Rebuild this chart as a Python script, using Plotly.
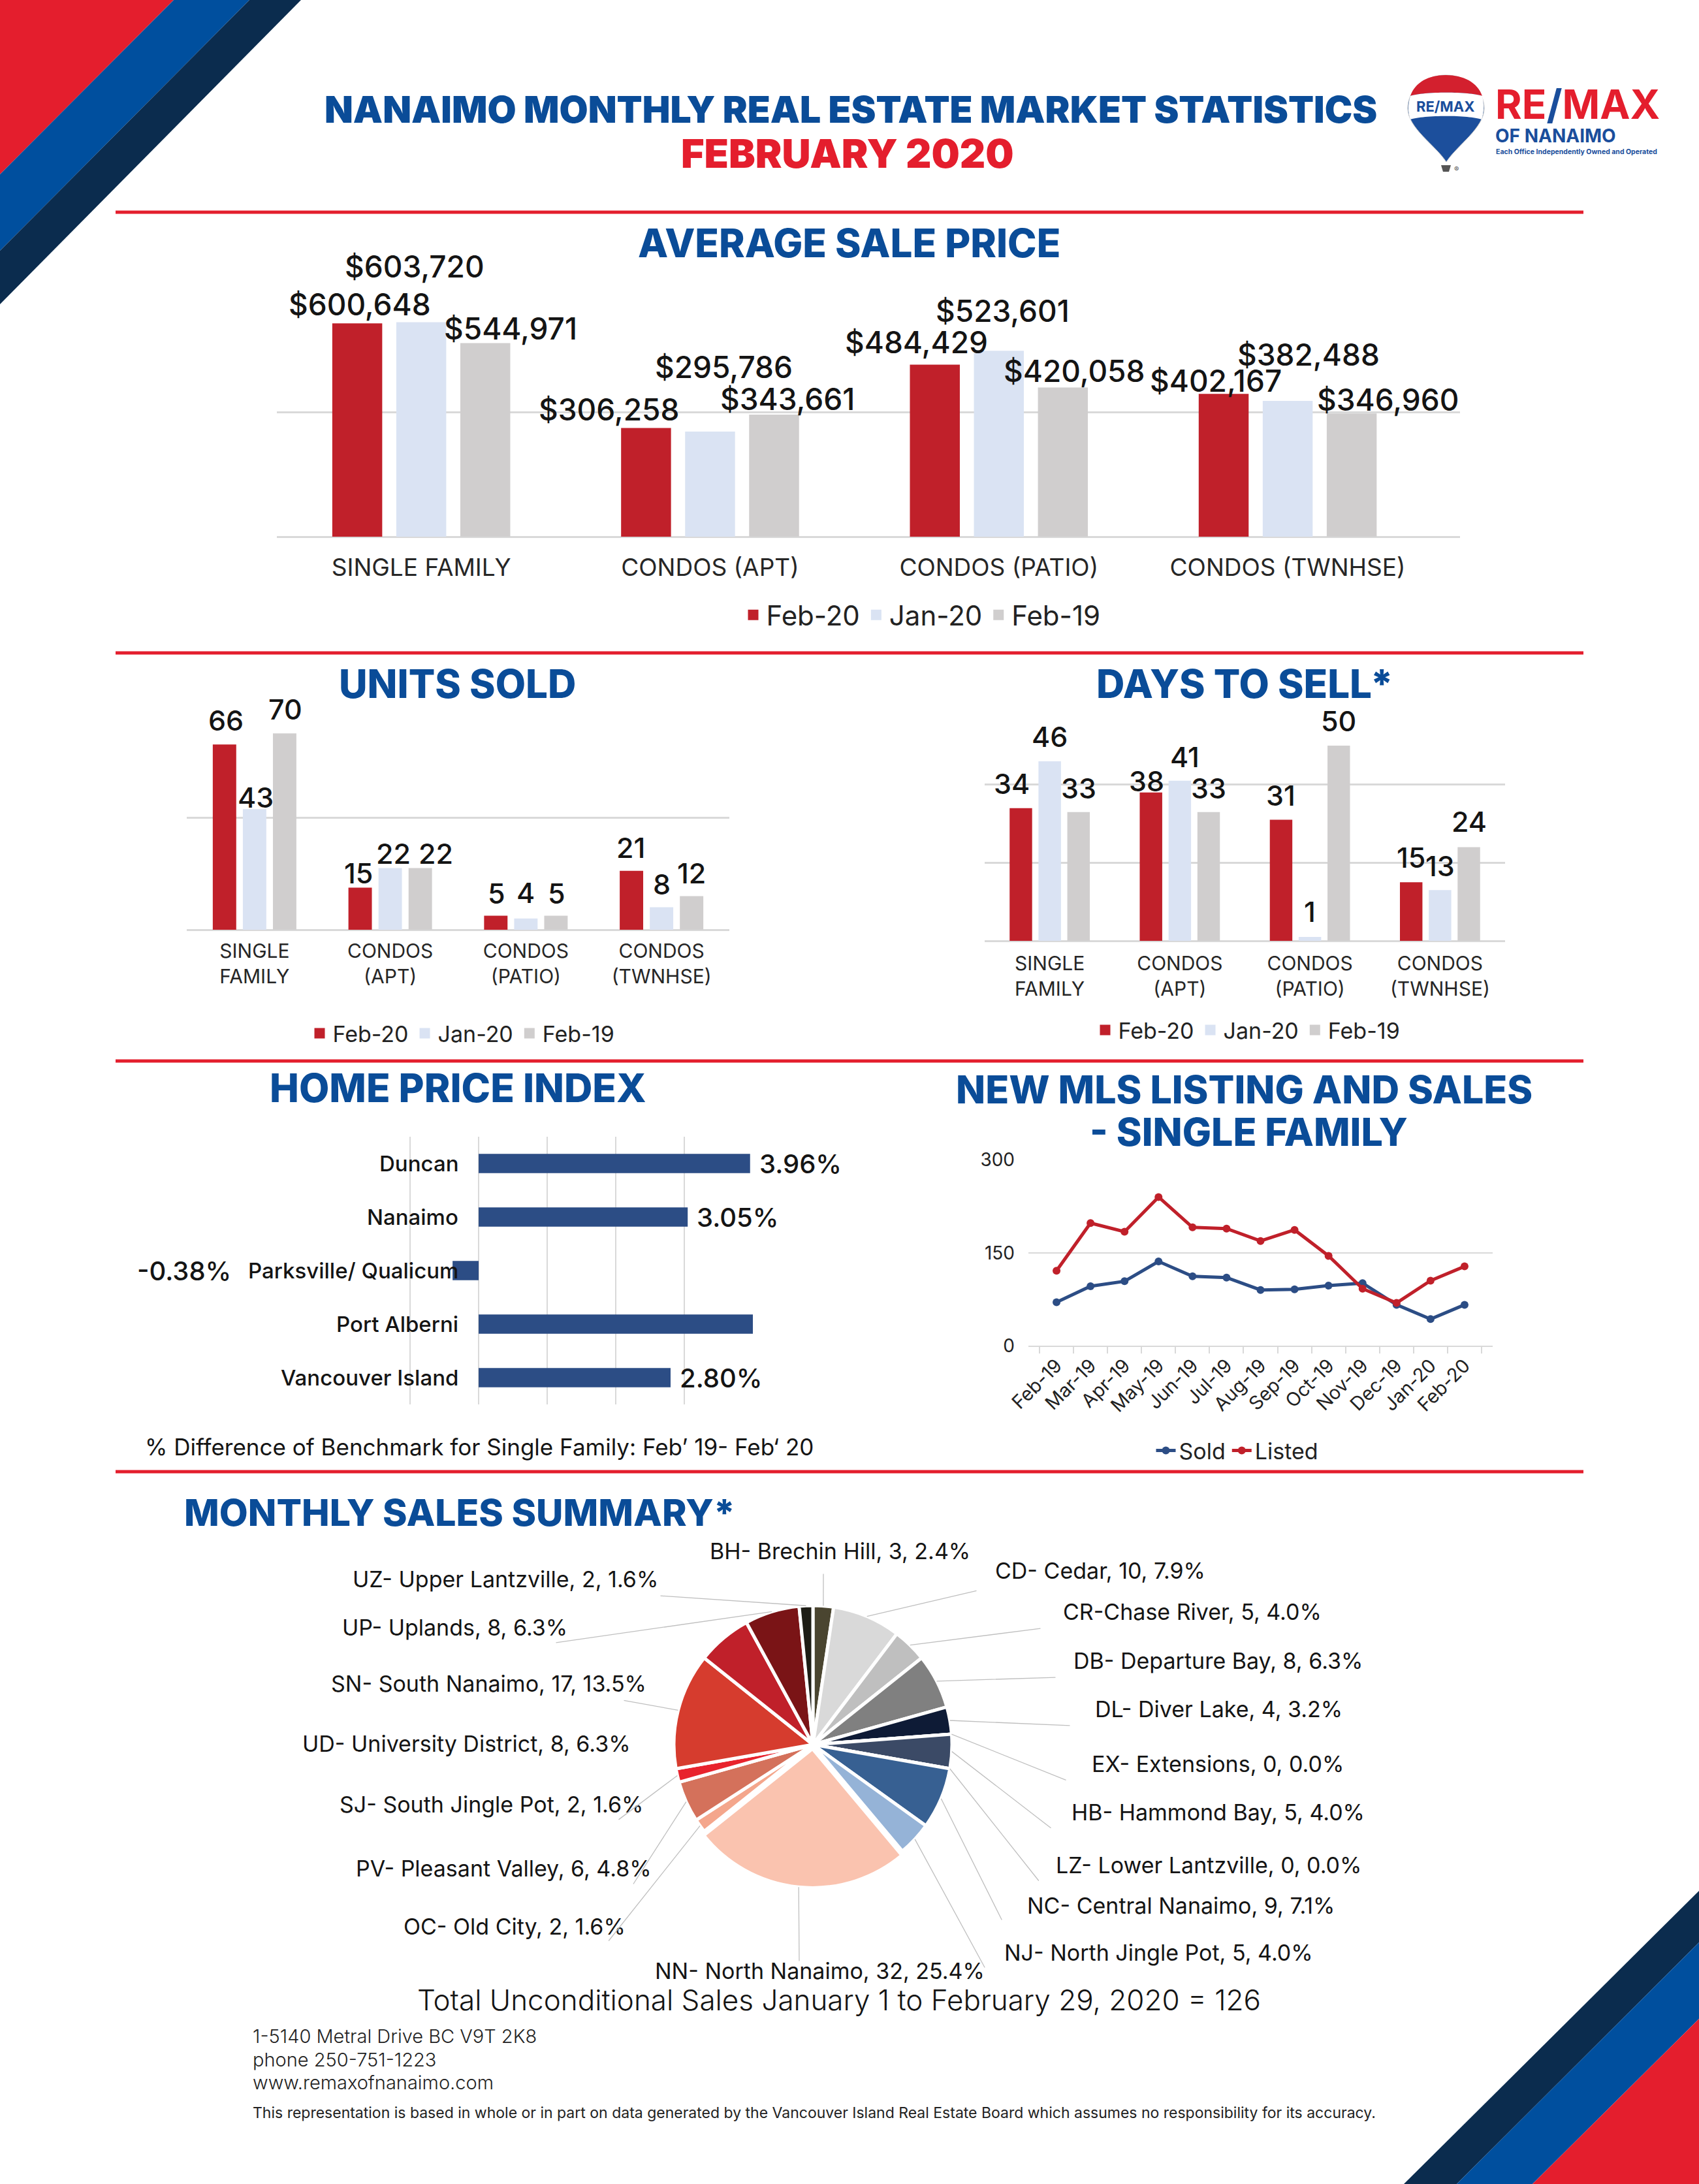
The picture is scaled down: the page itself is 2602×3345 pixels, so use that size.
import math
import plotly.graph_objects as go

W, H = 2602, 3345

# ---------------- data ----------------
bar_categories = ["SINGLE FAMILY", "CONDOS (APT)", "CONDOS (PATIO)", "CONDOS (TWNHSE)"]
series_names = ["Feb-20", "Jan-20", "Feb-19"]

avg_price_feb20 = [600648, 306258, 484429, 402167]
avg_price_jan20 = [603720, 295786, 523601, 382488]
avg_price_feb19 = [544971, 343661, 420058, 346960]

units_feb20 = [66, 15, 5, 21]
units_jan20 = [43, 22, 4, 8]
units_feb19 = [70, 22, 5, 12]

days_feb20 = [34, 38, 31, 15]
days_jan20 = [46, 41, 1, 13]
days_feb19 = [33, 33, 50, 24]

hpi_regions = ["Duncan", "Nanaimo", "Parksville/ Qualicum", "Port Alberni", "Vancouver Island"]
hpi_change = [3.96, 3.05, -0.38, 4.01, 2.80]
hpi_label_shown = [True, True, True, False, True]

mls_months = ["Feb-19", "Mar-19", "Apr-19", "May-19", "Jun-19", "Jul-19", "Aug-19",
              "Sep-19", "Oct-19", "Nov-19", "Dec-19", "Jan-20", "Feb-20"]
mls_sold = [70, 96, 104, 136, 112, 110, 90, 91, 97, 101, 66, 43, 66]
mls_listed = [121, 198, 184, 240, 191, 189, 169, 187, 145, 92, 69, 105, 128]

area_labels = ["BH- Brechin Hill", "CD- Cedar", "CR-Chase River", "DB- Departure Bay",
               "DL- Diver Lake", "EX- Extensions", "HB- Hammond Bay", "LZ- Lower Lantzville",
               "NC- Central Nanaimo", "NJ- North Jingle Pot", "NN- North Nanaimo", "OC- Old City",
               "PV- Pleasant Valley", "SJ- South Jingle Pot", "SN- South Nanaimo",
               "UD- University District", "UP- Uplands", "UZ- Upper Lantzville"]
area_sales = [3, 10, 5, 8, 4, 0, 5, 0, 9, 5, 32, 2, 6, 2, 17, 8, 8, 2]

# ---------------- styles ----------------
def fx(x):
    return x / W


def fy(y):
    return 1 - y / H


def pt(x, y):
    return f"{fx(x):.6f},{fy(y):.6f}"


RED = "#C0202A"
JAN = "#DAE3F3"
GREY = "#D0CECE"
GRID = "#D9D9D9"
TBLUE = "#0A4C98"
HRED = "#E41E2D"
NAVY = "#0B2C4E"
SBLUE = "#004F9E"
LOGOBLUE = "#1A4E9C"
HPIBLUE = "#2C4D85"
INK = "#141414"
FONT = "Inter, 'Open Sans', sans-serif"
series_colors = [RED, JAN, GREY]

AVG = dict(x0=424, x1=2236, y0=441, y1=822)
UNI = dict(x0=286, x1=1117, y0=1080, y1=1424)
DAY = dict(x0=1508, x1=2305, y0=1082, y1=1441)
HPI = dict(x0=523, x1=1153, y0=1741, y1=2151)
MLS = dict(x0=1575, x1=2286, y0=1776, y1=2061)
PIE_C = (1245, 2672)
PIE_R = 213
BARGAP = 0.335
GROUPGAP = 0.22

fig = go.Figure()
annotations = []
shapes = []


def add_bars(xa, ya, legend, vals_list):
    for name, vals, col in zip(series_names, vals_list, series_colors):
        fig.add_trace(go.Bar(x=bar_categories, y=vals, name=name, xaxis=xa, yaxis=ya,
                             showlegend=False, marker=dict(color=col, line=dict(width=0)),
                             hoverinfo="skip"))
    # legend entries with larger square swatches
    for name, col in zip(series_names, series_colors):
        fig.add_trace(go.Scatter(x=[None], y=[None], mode="markers", name=name, xaxis=xa,
                                 yaxis=ya, legend=legend, hoverinfo="skip",
                                 marker=dict(symbol="square", size=16, color=col)))


def bar_labels(g, xref, yref, vals_list, offsets, fmt, size):
    catw = (g["x1"] - g["x0"]) / len(bar_categories)
    slot = catw * (1 - BARGAP) / 3
    for si, vals in enumerate(vals_list):
        for ci, v in enumerate(vals):
            dx, dy = offsets[ci][si]
            annotations.append(dict(x=bar_categories[ci], y=v, xref=xref, yref=yref, text=fmt(v),
                                    showarrow=False, xanchor="center", yanchor="middle",
                                    xshift=(si - 1) * slot + dx, yshift=dy,
                                    font=dict(family=FONT, size=size, color=INK, weight=500)))


avg_vals = [avg_price_feb20, avg_price_jan20, avg_price_feb19]
units_vals = [units_feb20, units_jan20, units_feb19]
days_vals = [days_feb20, days_jan20, days_feb19]

add_bars("x", "y", "legend", avg_vals)
add_bars("x2", "y2", "legend2", units_vals)
add_bars("x3", "y3", "legend3", days_vals)

avg_offsets = [[(6, 29), (-10, 86), (36, 23)], [(-55, 28), (21, 99), (18, 24)],
               [(-26, 34), (6, 61), (15, 25)], [(-10, 20), (32, 71), (53, 21)]]
units_offsets = [[(2, 37), (2, 18), (1, 37)], [(-3, 23), (5, 22), (24, 22)],
                 [(1, 35), (0, 40), (1, 35)], [(-1, 36), (0, 36), (0, 35)]]
days_offsets = [[(-14, 38), (0, 38), (0, 37)], [(-7, 18), (8, 37), (0, 37)],
                [(0, 38), (0, 39), (0, 38)], [(0, 38), (0, 37), (0, 39)]]

bar_labels(AVG, "x", "y", avg_vals, avg_offsets, lambda v: f"${v:,.0f}", 46)
bar_labels(UNI, "x2", "y2", units_vals, units_offsets, lambda v: f"{v}", 43)
bar_labels(DAY, "x3", "y3", days_vals, days_offsets, lambda v: f"{v}", 43)

# Home price index
fig.add_trace(go.Bar(x=hpi_change, y=hpi_regions, orientation="h", xaxis="x4", yaxis="y4",
                     width=0.36, marker=dict(color=HPIBLUE, line=dict(width=0)),
                     showlegend=False, hoverinfo="skip"))
for reg, v, show in zip(hpi_regions, hpi_change, hpi_label_shown):
    annotations.append(dict(x=0, y=reg, xref="x4", yref="y4", text=reg, showarrow=False,
                            xanchor="right", yanchor="middle", xshift=-29,
                            font=dict(family=FONT, size=33, color=INK, weight=500)))
    if show:
        if v >= 0:
            annotations.append(dict(x=v, y=reg, xref="x4", yref="y4", text=f"{v:.2f}%",
                                    showarrow=False, xanchor="left", yanchor="middle", xshift=12,
                                    font=dict(family=FONT, size=40, color=INK, weight=500)))
        else:
            annotations.append(dict(x=v, y=reg, xref="x4", yref="y4", text=f"{v:.2f}%",
                                    showarrow=False, xanchor="right", yanchor="middle", xshift=-337,
                                    font=dict(family=FONT, size=40, color=INK, weight=500)))

# MLS lines
fig.add_trace(go.Scatter(x=mls_months, y=mls_sold, name="Sold", mode="lines+markers",
                         xaxis="x5", yaxis="y5", legend="legend4",
                         line=dict(color=HPIBLUE, width=5), marker=dict(size=12, color=HPIBLUE),
                         hoverinfo="skip"))
fig.add_trace(go.Scatter(x=mls_months, y=mls_listed, name="Listed", mode="lines+markers",
                         xaxis="x5", yaxis="y5", legend="legend4",
                         line=dict(color=RED, width=5), marker=dict(size=12, color=RED),
                         hoverinfo="skip"))

# Pie
pie_colors = ["#4A4530", "#D9D9D9", "#BFBFBF", "#808080", "#0E1B36", "#203864", "#3B4A66",
              "#2F5597", "#376092", "#95B3D7", "#FAC3AF", "#F4A68C", "#D4715B", "#E8232D",
              "#D63C2E", "#C0202A", "#7A1416", "#1D1D15"]
pull = [0.03 if lab.startswith("NN") else 0 for lab in area_labels]
rdom = PIE_R * (1 + max(pull))
cx, cy = PIE_C
fig.add_trace(go.Pie(values=area_sales, labels=area_labels, sort=False, direction="clockwise",
                     rotation=0, textinfo="none", pull=pull, showlegend=False, hoverinfo="skip",
                     marker=dict(colors=pie_colors, line=dict(color="white", width=5)),
                     domain=dict(x=[fx(cx - rdom), fx(cx + rdom)], y=[fy(cy + rdom), fy(cy - rdom)])))

total_sales = sum(area_sales)
label_anchor = [
    (1286, 2375, "center"), (1522, 2405, "left"), (1626, 2468, "left"), (1642, 2543, "left"),
    (1675, 2617, "left"), (1670, 2701, "left"), (1639, 2775, "left"), (1615, 2856, "left"),
    (1571, 2918, "left"), (1536, 2990, "left"), (1255, 3018, "center"), (960, 2950, "right"),
    (1000, 2861, "right"), (987, 2763, "right"), (992, 2578, "right"), (968, 2670, "right"),
    (871, 2492, "right"), (1010, 2418, "right")]
leader_tails = [(1261, 2409), (1497, 2436), (1595, 2494), (1618, 2569), (1640, 2643),
                (1634, 2727), (1611, 2801), (1592, 2882), (1535, 2942), (1509, 3015),
                (1224, 3005), (931, 2974), (969, 2887), (946, 2788), (954, 2604), None,
                (850, 2516), (1010, 2444)]
cum = 0
for i, (lab, n) in enumerate(zip(area_labels, area_sales)):
    mid = (cum + n / 2) / total_sales
    cum += n
    th = 2 * math.pi * mid
    rr = PIE_R * (1 + pull[i])
    hx = cx + rr * math.sin(th)
    hy = cy - rr * math.cos(th)
    pct = n / total_sales * 100
    lx, ly, anc = label_anchor[i]
    annotations.append(dict(x=fx(lx), y=fy(ly), xref="paper", yref="paper",
                            text=f"{lab}, {n}, {pct:.1f}%", showarrow=False,
                            xanchor=anc, yanchor="middle",
                            font=dict(family=FONT, size=34, color=INK)))
    if leader_tails[i] is not None:
        tx, ty = leader_tails[i]
        annotations.append(dict(x=fx(hx), y=fy(hy), xref="paper", yref="paper", text="",
                                showarrow=True, arrowhead=0, arrowwidth=1.3, arrowcolor="#BFBFBF",
                                axref="pixel", ayref="pixel", ax=tx - hx, ay=ty - hy))

# ---------------- titles & texts ----------------
def title(text, x, y, size, color=TBLUE, anchor="center", weight=800):
    annotations.append(dict(x=fx(x), y=fy(y), xref="paper", yref="paper", text=text,
                            showarrow=False, xanchor=anchor, yanchor="middle",
                            font=dict(family=FONT, size=size, color=color, weight=weight)))


title("NANAIMO MONTHLY REAL ESTATE MARKET STATISTICS", 1303, 167, 57, weight=900)
title("FEBRUARY 2020", 1298, 235, 61, color=HRED, weight=900)
title("AVERAGE SALE PRICE", 1300, 372, 60)
title("UNITS SOLD", 700, 1047, 60)
title("DAYS TO SELL*", 1906, 1047, 60)
title("HOME PRICE INDEX", 701, 1666, 60)
title("NEW MLS LISTING AND SALES", 1905, 1668, 59)
title("- SINGLE FAMILY", 1912, 1733, 59)
title("MONTHLY SALES SUMMARY*", 280, 2316, 57, anchor="left")

annotations.append(dict(x=fx(220), y=fy(2216), xref="paper", yref="paper",
                        text="% Difference of Benchmark for Single Family: Feb\u2019 19- Feb\u2018 20",
                        showarrow=False, xanchor="left", yanchor="middle",
                        font=dict(family=FONT, size=35, color=INK)))
annotations.append(dict(x=fx(1285), y=fy(3063), xref="paper", yref="paper",
                        text=f"Total Unconditional Sales January 1 to February 29, 2020 = {total_sales}",
                        showarrow=False, xanchor="center", yanchor="middle",
                        font=dict(family=FONT, size=44, color=INK, weight=300)))
for txt, yy in [("1-5140 Metral Drive BC V9T 2K8", 3118), ("phone 250-751-1223", 3154),
                ("www.remaxofnanaimo.com", 3189)]:
    annotations.append(dict(x=fx(385), y=fy(yy), xref="paper", yref="paper", text=txt,
                            showarrow=False, xanchor="left", yanchor="middle",
                            font=dict(family=FONT, size=29, color="#222222", weight=300)))
annotations.append(dict(x=fx(385), y=fy(3236), xref="paper", yref="paper",
                        text="This representation is based in whole or in part on data generated by the "
                             "Vancouver Island Real Estate Board which assumes no responsibility for its accuracy.",
                        showarrow=False, xanchor="left", yanchor="middle",
                        font=dict(family=FONT, size=23, color="#222222")))

# logo texts
LOGO = "Inter, 'Liberation Sans', Arial, sans-serif"
annotations.append(dict(x=fx(2288), y=fy(160), xref="paper", yref="paper",
                        text=f"RE<span style='color:{LOGOBLUE}'>/</span>MAX",
                        showarrow=False, xanchor="left", yanchor="middle",
                        font=dict(family=LOGO, size=62, color=HRED, weight=700)))
annotations.append(dict(x=fx(2288), y=fy(208), xref="paper", yref="paper", text="OF NANAIMO",
                        showarrow=False, xanchor="left", yanchor="middle",
                        font=dict(family=LOGO, size=28, color=LOGOBLUE, weight=700)))
annotations.append(dict(x=fx(2289), y=fy(232), xref="paper", yref="paper",
                        text="Each Office Independently Owned and Operated",
                        showarrow=False, xanchor="left", yanchor="middle",
                        font=dict(family=LOGO, size=10.5, color=LOGOBLUE, weight=700)))
annotations.append(dict(x=fx(2214), y=fy(163), xref="paper", yref="paper", text="RE/MAX",
                        showarrow=False, xanchor="center", yanchor="middle",
                        font=dict(family=LOGO, size=22, color=LOGOBLUE, weight=700)))
annotations.append(dict(x=fx(2230), y=fy(259), xref="paper", yref="paper", text="\u00ae",
                        showarrow=False, xanchor="center", yanchor="middle",
                        font=dict(family=LOGO, size=11, color="#555555")))

# ---------------- shapes ----------------
def poly(points, color):
    shapes.append(dict(type="path", xref="paper", yref="paper", layer="below",
                       path="M " + " L ".join(pt(*p) for p in points) + " Z",
                       fillcolor=color, line=dict(width=0)))


poly([(0, 0), (266, 0), (0, 267)], HRED)
poly([(266, 0), (382, 0), (0, 384), (0, 267)], SBLUE)
poly([(382, 0), (461, 0), (0, 466), (0, 384)], NAVY)
poly([(2602, 2896), (2602, 2975), (2231, 3345), (2150, 3345)], NAVY)
poly([(2602, 2975), (2602, 3092), (2347, 3345), (2231, 3345)], SBLUE)
poly([(2602, 3092), (2602, 3345), (2347, 3345)], HRED)

for yy in [325, 1000, 1625, 2254]:
    shapes.append(dict(type="line", xref="paper", yref="paper", x0=fx(177), x1=fx(2425),
                       y0=fy(yy), y1=fy(yy), line=dict(color=HRED, width=5)))

# balloon
balloon = (f"M {pt(2214,115)} C {pt(2248,115)} {pt(2273,138)} {pt(2273,166)} "
           f"C {pt(2273,196)} {pt(2232,222)} {pt(2215,248)} "
           f"C {pt(2198,222)} {pt(2156,196)} {pt(2156,166)} "
           f"C {pt(2156,138)} {pt(2181,115)} {pt(2214,115)} Z")
shapes.append(dict(type="path", xref="paper", yref="paper", path=balloon, fillcolor="#1C4F9C",
                   line=dict(color="#C8C8C8", width=1)))
cap = (f"M {pt(2160,147)} C {pt(2167,126)} {pt(2188,115)} {pt(2214,115)} "
       f"C {pt(2241,115)} {pt(2263,126)} {pt(2270,147)} "
       f"C {pt(2250,140)} {pt(2180,140)} {pt(2160,147)} Z")
shapes.append(dict(type="path", xref="paper", yref="paper", path=cap, fillcolor="#D3202E",
                   line=dict(width=0)))
band = (f"M {pt(2160,147)} C {pt(2180,140)} {pt(2250,140)} {pt(2270,147)} "
        f"C {pt(2273,160)} {pt(2273,172)} {pt(2269,183)} "
        f"C {pt(2250,176)} {pt(2180,176)} {pt(2160,183)} "
        f"C {pt(2156,172)} {pt(2156,160)} {pt(2160,147)} Z")
shapes.append(dict(type="path", xref="paper", yref="paper", path=band, fillcolor="white",
                   line=dict(width=0)))
shapes.append(dict(type="path", xref="paper", yref="paper",
                   path=f"M {pt(2207,253)} L {pt(2222,253)} L {pt(2219,263)} L {pt(2210,263)} Z",
                   fillcolor="#555555", line=dict(width=0)))

# ---------------- axes ----------------
def cat_x(g, anchor, size, standoff, ticktext=None):
    d = dict(domain=[fx(g["x0"]), fx(g["x1"])], anchor=anchor, type="category",
             showgrid=False, showline=False, zeroline=False, ticks="",
             tickfont=dict(family=FONT, size=size, color="#262626"),
             ticklabelstandoff=standoff, fixedrange=True, automargin=False)
    if ticktext is not None:
        d.update(tickmode="array", tickvals=bar_categories, ticktext=ticktext)
    return d


def val_y(g, anchor, top, dtick):
    return dict(domain=[fy(g["y1"]), fy(g["y0"])], anchor=anchor, range=[0, top * 1.0005],
                tick0=0, dtick=dtick, showgrid=True, gridcolor=GRID, gridwidth=3,
                zeroline=True, zerolinecolor=GRID, zerolinewidth=3, showticklabels=False,
                ticks="", fixedrange=True, automargin=False)


two_line = [c.replace(" ", "<br>", 1) for c in bar_categories]


def leg(x, y, size):
    return dict(x=fx(x), y=fy(y), xanchor="center", yanchor="middle", orientation="h",
                font=dict(family=FONT, size=size, color="#222222"), bgcolor="rgba(0,0,0,0)",
                itemclick=False, itemdoubleclick=False)


fig.update_layout(
    width=W, height=H, autosize=False,
    margin=dict(l=0, r=0, t=0, b=0, pad=0, autoexpand=False),
    paper_bgcolor="white", plot_bgcolor="rgba(0,0,0,0)",
    barmode="group", bargap=BARGAP, bargroupgap=GROUPGAP, hovermode=False,
    font=dict(family=FONT, color=INK),
    xaxis=cat_x(AVG, "y", 37, 22),
    yaxis=val_y(AVG, "x", 700000, 350000),
    xaxis2=cat_x(UNI, "y2", 30, 12, two_line),
    yaxis2=val_y(UNI, "x2", 80, 40),
    xaxis3=cat_x(DAY, "y3", 30, 14, two_line),
    yaxis3=val_y(DAY, "x3", 60, 20),
    xaxis4=dict(domain=[fx(HPI["x0"]), fx(HPI["x1"])], anchor="y4", range=[-2.0005, 4.0005],
                dtick=1, tick0=0, showgrid=True, gridcolor=GRID, gridwidth=2, zeroline=True,
                zerolinecolor=GRID, zerolinewidth=2, showticklabels=False, ticks="",
                fixedrange=True, automargin=False),
    yaxis4=dict(domain=[fy(HPI["y1"]), fy(HPI["y0"])], anchor="x4", type="category",
                autorange="reversed", showgrid=False, showticklabels=False, ticks="",
                zeroline=False, fixedrange=True, automargin=False),
    xaxis5=dict(domain=[fx(MLS["x0"]), fx(MLS["x1"])], anchor="y5", type="category",
                showgrid=False, showline=True, linecolor=GRID, linewidth=2, ticks="outside",
                tickson="boundaries", ticklen=10, tickcolor=GRID, tickwidth=2, tickangle=-45,
                tickfont=dict(family=FONT, size=29, color="#222222"), fixedrange=True,
                automargin=False),
    yaxis5=dict(domain=[fy(MLS["y1"]), fy(MLS["y0"])], anchor="x5", range=[0, 300.5], dtick=150,
                showgrid=True, gridcolor=GRID, gridwidth=2, zeroline=False, ticks="",
                tickfont=dict(family=FONT, size=28, color="#222222"), ticklabelstandoff=20,
                fixedrange=True, automargin=False),
    legend=leg(1412, 942, 42),
    legend2=leg(708, 1583, 34),
    legend3=leg(1911, 1578, 34),
    legend4=leg(1895, 2222, 34),
    annotations=annotations,
    shapes=shapes,
)

fig.write_html("out.html", config={"displayModeBar": False},
               post_script="document.body.style.margin='0';document.body.style.padding='0';")
